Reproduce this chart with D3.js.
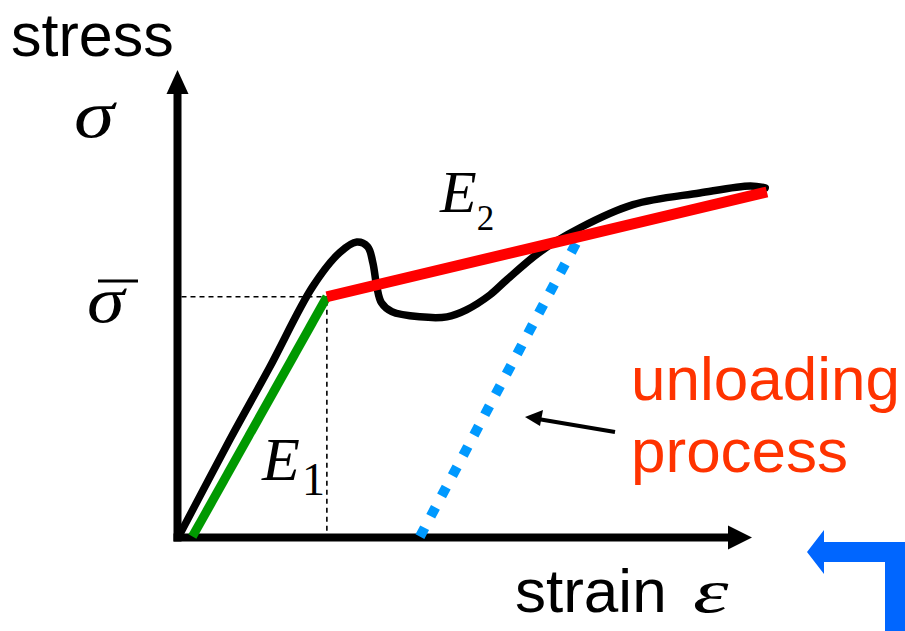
<!DOCTYPE html>
<html>
<head>
<meta charset="utf-8">
<script src="https://cdn.jsdelivr.net/npm/d3@7"></script>
<style>
  html, body { margin: 0; padding: 0; background: #fff; }
  svg { display: block; }
  .sans { font-family: "Liberation Sans", Arial, Helvetica, sans-serif; }
  .serif { font-family: "Liberation Serif", "Times New Roman", serif; font-style: italic; }
</style>
</head>
<body>
<svg id="chart" width="905" height="631"></svg>
<script>
// Stress-strain response (arbitrary units): elastic rise, yield drop, hardening
const curveStrain = [0.05, 0.91, 1.60, 2.35, 2.82, 3.12, 3.31, 3.40, 3.47, 3.55, 3.73, 4.22, 4.69, 5.03, 5.44, 5.73, 6.31, 7.00, 7.93, 9.09, 9.97, 10.23];
const curveStress = [0.09, 2.09, 3.63, 5.36, 6.09, 6.32, 6.22, 5.88, 5.36, 5.02, 4.83, 4.72, 4.72, 4.87, 5.19, 5.51, 6.11, 6.62, 7.12, 7.37, 7.52, 7.48];

// Bilinear idealisation: E1 (elastic) and E2 (hardening) segments
const e1Strain = [0.26, 2.60];
const e1Stress = [0.02, 5.15];
const e2Strain = [2.60, 10.26];
const e2Stress = [5.15, 7.39];

// Unloading path back to zero stress
const unloadStrain = [4.22, 7.00];
const unloadStress = [0.02, 6.44];

// Yield point guide (sigma-bar level)
const yieldStrain = 2.60;
const yieldStress = 5.15;

const axisMax = 10;

const svg = d3.select("#chart");
const x = d3.scaleLinear().domain([0, axisMax]).range([177.5, 752]);
const y = d3.scaleLinear().domain([0, axisMax]).range([537.5, 70]);

const zip = (a, b) => a.map((v, i) => [v, b[i]]);

// Axes with arrow heads
const x0 = x(0), y0 = y(0), xe = x(axisMax), ye = y(axisMax);
svg.append("line").attr("x1", x0).attr("y1", y0 + 4).attr("x2", x0).attr("y2", ye + 20)
  .attr("stroke", "#000").attr("stroke-width", 8);
svg.append("path").attr("d", `M${x0},${ye} L${x0 - 11},${ye + 24} L${x0 + 11},${ye + 24} Z`).attr("fill", "#000");
svg.append("line").attr("x1", x0 - 4).attr("y1", y0).attr("x2", xe - 20).attr("y2", y0)
  .attr("stroke", "#000").attr("stroke-width", 8);
svg.append("path").attr("d", `M${xe},${y0} L${xe - 24},${y0 - 12} L${xe - 24},${y0 + 12} Z`).attr("fill", "#000");

// Dashed guides to the yield point
svg.append("line").attr("x1", x0 + 4).attr("y1", y(yieldStress)).attr("x2", x(yieldStrain)).attr("y2", y(yieldStress))
  .attr("stroke", "#000").attr("stroke-width", 1.6).attr("stroke-dasharray", "5,4");
svg.append("line").attr("x1", x(yieldStrain)).attr("y1", y(yieldStress) + 4).attr("x2", x(yieldStrain)).attr("y2", y0 - 4)
  .attr("stroke", "#000").attr("stroke-width", 1.6).attr("stroke-dasharray", "5,4");

// Measured curve
const smooth = d3.line().x(d => x(d[0])).y(d => y(d[1])).curve(d3.curveCatmullRom.alpha(0.5));
svg.append("path").datum(zip(curveStrain, curveStress))
  .attr("d", smooth)
  .attr("fill", "none").attr("stroke", "#000").attr("stroke-width", 7.5)
  .attr("stroke-linejoin", "round").attr("stroke-linecap", "round");

const straight = d3.line().x(d => x(d[0])).y(d => y(d[1]));

// Unloading (dotted blue)
svg.append("path").datum(zip(unloadStrain, unloadStress))
  .attr("d", straight).attr("fill", "none").attr("stroke", "#0099ff")
  .attr("stroke-width", 10).attr("stroke-dasharray", "10,13");

// E1 segment
svg.append("path").datum(zip(e1Strain, e1Stress))
  .attr("d", straight).attr("fill", "none").attr("stroke", "#009900").attr("stroke-width", 9);

// E2 segment
svg.append("path").datum(zip(e2Strain, e2Stress))
  .attr("d", straight).attr("fill", "none").attr("stroke", "#ff0000").attr("stroke-width", 11);

// Labels
svg.append("text").attr("class", "sans").attr("x", 11).attr("y", 55.5)
  .attr("font-size", 61).attr("fill", "#000").text("stress");
svg.append("text").attr("class", "sans").attr("x", 515).attr("y", 612)
  .attr("font-size", 62).attr("fill", "#000").text("strain");
svg.append("text").attr("class", "serif")
  .attr("transform", "translate(693,612) scale(1.45,1)")
  .attr("font-size", 62).attr("fill", "#000").text("ε");

svg.append("text").attr("class", "serif")
  .attr("transform", "translate(74,137) scale(1.2,1)")
  .attr("font-size", 68).attr("fill", "#000").text("σ");
svg.append("text").attr("class", "serif")
  .attr("transform", "translate(87,322) scale(1.15,1)")
  .attr("font-size", 66).attr("fill", "#000").text("σ");
svg.append("line").attr("x1", 98).attr("y1", 281).attr("x2", 138).attr("y2", 281)
  .attr("stroke", "#000").attr("stroke-width", 3);

const e1 = svg.append("text").attr("class", "serif").attr("x", 262).attr("y", 480)
  .attr("font-size", 62).attr("fill", "#000");
e1.append("tspan").text("E");
e1.append("tspan").attr("font-style", "normal").attr("font-size", 46).attr("dy", 15).attr("dx", 2).text("1");

const e2 = svg.append("text").attr("class", "serif").attr("x", 440).attr("y", 212)
  .attr("font-size", 60).attr("fill", "#000");
e2.append("tspan").text("E");
e2.append("tspan").attr("font-style", "normal").attr("font-size", 35).attr("dy", 18).attr("dx", 0).text("2");

svg.append("text").attr("class", "sans").attr("x", 631).attr("y", 400)
  .attr("font-size", 62).attr("fill", "#ff3300").text("unloading");
svg.append("text").attr("class", "sans").attr("x", 631).attr("y", 472)
  .attr("font-size", 62).attr("fill", "#ff3300").text("process");

// Pointer arrow to the unloading path
svg.append("line").attr("x1", 615).attr("y1", 432).attr("x2", 538).attr("y2", 419)
  .attr("stroke", "#000").attr("stroke-width", 4);
svg.append("path").attr("d", "M525,417 L543,410 L540,426 Z").attr("fill", "#000");

// Return arrow (bottom right corner)
svg.append("path")
  .attr("d", "M807,552 L824,530 L824,542 L912,542 L912,640 L885,640 L885,562 L824,562 L824,574 Z")
  .attr("fill", "#0066ff");
</script>
</body>
</html>
